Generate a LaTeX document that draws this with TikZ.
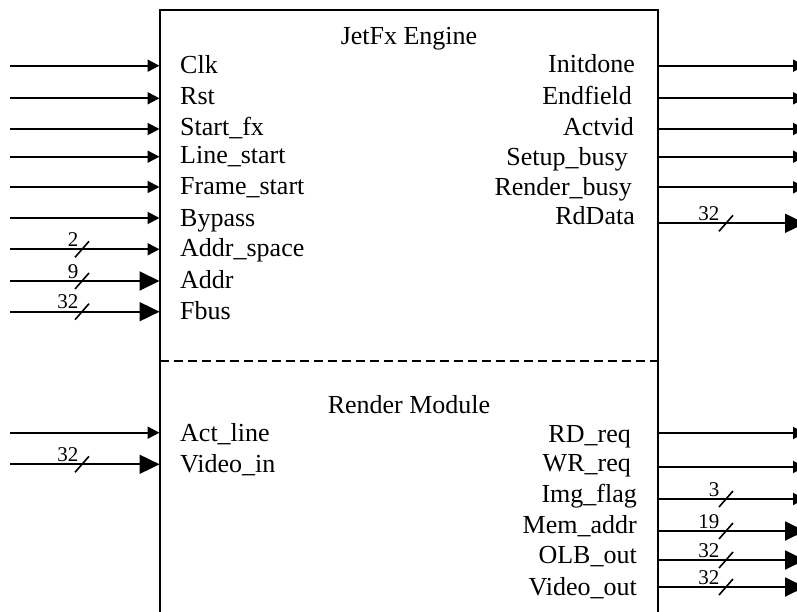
\documentclass[tikz,border=0pt]{standalone}
\usepackage{fontspec}
\setmainfont{Liberation Serif}
\usetikzlibrary{arrows.meta}
\tikzset{
  wire/.style={line width=1.9pt},
  sig/.style={wire,-{Triangle[length=12pt,width=12pt]}},
  bus/.style={wire,-{Triangle[length=20pt,width=19pt]}},
  pinL/.style={anchor=base west,inner sep=0pt,font=\fontsize{26}{30}\selectfont},
  pinR/.style={anchor=base east,inner sep=0pt,font=\fontsize{26}{30}\selectfont},
  title/.style={anchor=base,inner sep=0pt,font=\fontsize{26}{30}\selectfont},
  width/.style={anchor=base east,inner sep=0pt,font=\fontsize{21}{24}\selectfont},
  tick/.style={line width=1.6pt},
}
\begin{document}
\begin{tikzpicture}[x=1pt,y=-1pt]
\clip (0,0) rectangle (797,612);
\fill[white] (0,0) rectangle (797,612);

% block outline and section divider
\coordinate (boxNW) at (159.5,10);
\coordinate (boxSE) at (657.5,625);
\draw[line width=2pt] (boxNW) rectangle (boxSE);
\coordinate (divL) at (159.5,361);
\coordinate (divR) at (657.5,361);
\draw[line width=1.8pt,dash pattern=on 9pt off 5pt] (divL) -- (divR);

\node[title] (eng) at (409,45) {JetFx Engine};
\node[title] (rmod) at (409,413) {Render Module};

% inputs: name / wire y / text baseline / style / width label
\foreach \nm/\yy/\bl/\st/\w in {
  Clk/65.7/74/sig/,
  Rst/98.3/105/sig/,
  Start\_fx/129/136/sig/,
  Line\_start/156.7/164/sig/,
  Frame\_start/187/195/sig/,
  Bypass/218/226/sig/,
  Addr\_space/249.3/257/sig/2,
  Addr/281/288/bus/9,
  Fbus/311.7/319/bus/32,
  Act\_line/432.7/441/sig/,
  Video\_in/464.3/472/bus/32}{
  \coordinate (src) at (10,\yy);
  \coordinate (pin) at (159.5,\yy);
  \draw[\st] (src) -- (pin);
  \node[pinL] (lbl) at (180,\bl) {\nm};
  \if\relax\detokenize\expandafter{\w}\relax\else
    \coordinate (tk) at (82,\yy);
    \draw[tick] ([shift={(-7,8)}]tk) -- ([shift={(7,-8)}]tk);
    \node[width] (wl) at (78.5,\yy-3) {\w};
  \fi
}

% outputs: name / wire y / text baseline / right edge / style / width label
\foreach \nm/\yy/\bl/\rx/\st/\w in {
  Initdone/65.7/73/635/sig/,
  Endfield/98.3/105/632/sig/,
  Actvid/129/136/634/sig/,
  Setup\_busy/156.7/166/628/sig/,
  Render\_busy/187.3/196/632/sig/,
  RdData/223.3/225/635/bus/32,
  RD\_req/433/442/631/sig/,
  WR\_req/467/471/631/sig/,
  Img\_flag/499/502/637/sig/3,
  Mem\_addr/531/533/637/bus/19,
  OLB\_out/560/563/637/bus/32,
  Video\_out/587/595/637/bus/32}{
  \coordinate (pin) at (657.5,\yy);
  \coordinate (dst) at (805,\yy);
  \draw[\st] (pin) -- (dst);
  \node[pinR] (lbl) at (\rx,\bl) {\nm};
  \if\relax\detokenize\expandafter{\w}\relax\else
    \coordinate (tk) at (726,\yy);
    \draw[tick] ([shift={(-7,8)}]tk) -- ([shift={(7,-8)}]tk);
    \node[width] (wl) at (719.5,\yy-3) {\w};
  \fi
}
\end{tikzpicture}
\end{document}
